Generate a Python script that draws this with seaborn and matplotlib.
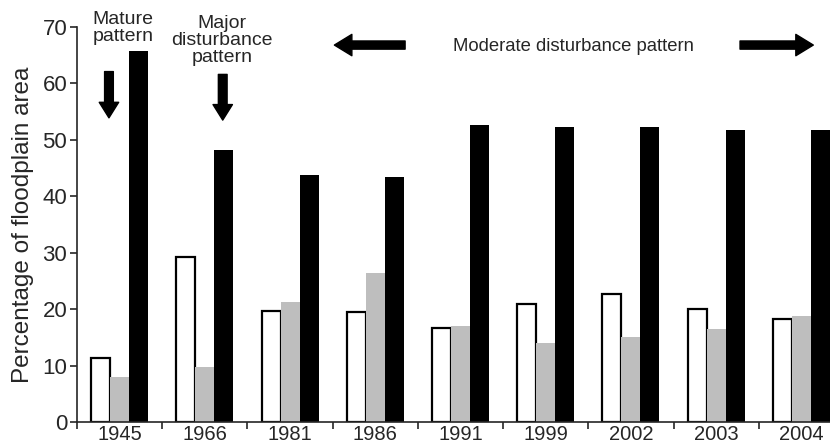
import numpy as np
import pandas as pd
import matplotlib
matplotlib.use("Agg")
import matplotlib.pyplot as plt
import seaborn as sns

years = ["1945", "1966", "1981", "1986", "1991", "1999", "2002", "2003", "2004"]
white_vals = [11.4, 29.3, 19.7, 19.5, 16.7, 21.0, 22.7, 20.1, 18.2]
gray_vals = [7.9, 9.7, 21.3, 26.4, 17.1, 14.0, 15.1, 16.4, 18.7]
black_vals = [65.8, 48.2, 43.8, 43.5, 52.6, 52.2, 52.2, 51.8, 51.8]
classes = ["A", "B", "C"]
yticks = [0, 10, 20, 30, 40, 50, 60, 70]

df = pd.DataFrame({
    "year": years * 3,
    "value": white_vals + gray_vals + black_vals,
    "cls": [classes[0]] * 9 + [classes[1]] * 9 + [classes[2]] * 9,
})

sns.set_style("ticks")
plt.rcParams["font.family"] = ["Liberation Sans", "DejaVu Sans"]

fig = plt.figure(figsize=(8.3, 4.45), dpi=100)
ax = fig.add_axes([77 / 830, 23 / 445, 767 / 830, 395 / 445])

sns.barplot(data=df, x="year", y="value", hue="cls", order=years, hue_order=classes,
            palette=["white", "#bebebe", "black"], width=0.67, saturation=1,
            legend=False, ax=ax, linewidth=0)

for p in ax.patches:
    fc = p.get_facecolor()
    if fc[0] > 0.95:
        p.set_edgecolor("black")
        p.set_linewidth(1.6)

ax.set_xlim(-0.5, 8.5)
ax.set_ylim(0, 70)
ax.set_yticks(yticks)
ax.set_yticklabels([str(v) for v in yticks], fontsize=16)
ax.set_xticks(range(len(years)))
ax.set_xticklabels(years, fontsize=14.5)
ax.set_xticks(np.arange(-0.5, len(years)), minor=True)
ax.tick_params(axis="x", which="major", length=0, pad=2.5)
ax.tick_params(axis="x", which="minor", length=5, width=1.2, direction="out")
ax.tick_params(axis="y", length=5, width=1.2, pad=2)
ax.set_xlabel("")
ax.set_ylabel("Percentage of floodplain area", fontsize=17.5, labelpad=6)
for s in ["left", "bottom"]:
    ax.spines[s].set_linewidth(1.2)
sns.despine(ax=ax)

# annotations
ax.text(0.04, 69.8, "Mature\npattern", ha="center", va="center", fontsize=14,
        linespacing=1.0, clip_on=False)
ax.text(1.20, 67.6, "Major\ndisturbance\npattern", ha="center", va="center", fontsize=14,
        linespacing=1.0, clip_on=False)
ax.text(5.32, 66.5, "Moderate disturbance pattern", ha="center", va="center", fontsize=13.3)

arrow_h = dict(arrowstyle="simple,head_length=0.9,head_width=1.1,tail_width=0.42",
               mutation_scale=14, color="black", shrinkA=0, shrinkB=0)
arrow_v = dict(arrowstyle="simple,head_length=0.8,head_width=1.0,tail_width=0.45",
               mutation_scale=14, color="black", shrinkA=0, shrinkB=0)
ax.annotate("", xy=(2.52, 66.8), xytext=(3.35, 66.8), arrowprops=arrow_h)
ax.annotate("", xy=(8.14, 66.8), xytext=(7.28, 66.8), arrowprops=arrow_h)
ax.annotate("", xy=(-0.125, 53.9), xytext=(-0.125, 62.1), arrowprops=arrow_v)
ax.annotate("", xy=(1.21, 53.5), xytext=(1.21, 61.6), arrowprops=arrow_v)

fig.savefig("out.png", dpi=100)
